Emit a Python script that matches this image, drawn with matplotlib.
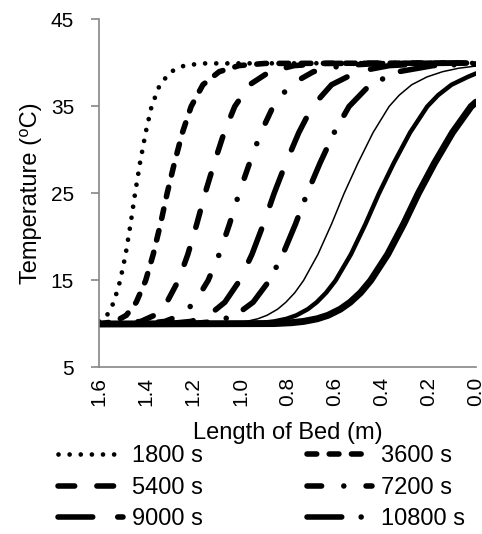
import matplotlib
matplotlib.use("Agg")
import matplotlib.pyplot as plt

plt.rcParams['font.family'] = ['Liberation Sans', 'DejaVu Sans']
plt.rcParams['lines.scale_dashes'] = False

# bed length (m) and temperature (C)
L_1800 = [1.6, 1.566, 1.537, 1.510, 1.487, 1.466, 1.447, 1.426, 1.402, 1.377, 1.342, 1.295, 1.238, 1.162, 0.0]
T_1800 = [10.3, 11, 12.5, 15, 18, 21.5, 25, 28.5, 32, 35, 37.5, 39, 39.7, 39.95, 40]

L_3600 = [1.6, 1.588, 1.531, 1.484, 1.442, 1.402, 1.370, 1.339, 1.311, 1.280, 1.246, 1.209, 1.159, 1.090, 1.006, 0.895, 0.0]
T_3600 = [10.0, 10.05, 10.3, 11, 12.5, 15, 18, 21.5, 25, 28.5, 32, 35, 37.5, 39, 39.7, 39.95, 40]

L_5400 = [1.6, 1.493, 1.422, 1.365, 1.312, 1.263, 1.223, 1.185, 1.150, 1.111, 1.069, 1.024, 0.961, 0.876, 0.772, 0.635, 0.0]
T_5400 = [10.0, 10.05, 10.3, 11, 12.5, 15, 18, 21.5, 25, 28.5, 32, 35, 37.5, 39, 39.7, 39.95, 40]

L_7200 = [1.6, 1.402, 1.320, 1.254, 1.193, 1.137, 1.090, 1.046, 1.006, 0.961, 0.913, 0.861, 0.788, 0.690, 0.570, 0.412, 0.0]
T_7200 = [10.0, 10.05, 10.3, 11, 12.5, 15, 18, 21.5, 25, 28.5, 32, 35, 37.5, 39, 39.7, 39.95, 40]

L_9000 = [1.6, 1.301, 1.209, 1.134, 1.066, 1.003, 0.951, 0.902, 0.857, 0.807, 0.752, 0.695, 0.613, 0.503, 0.368, 0.191, 0.0]
T_9000 = [10.0, 10.05, 10.3, 11, 12.5, 15, 18, 21.5, 25, 28.5, 32, 35, 37.5, 39, 39.7, 39.95, 40]

L_10800 = [1.6, 1.203, 1.102, 1.021, 0.946, 0.877, 0.820, 0.766, 0.717, 0.662, 0.602, 0.539, 0.450, 0.329, 0.182, 0.0]
T_10800 = [10.0, 10.05, 10.3, 11, 12.5, 15, 18, 21.5, 25, 28.5, 32, 35, 37.5, 39, 39.7, 39.9]

L_12600 = [1.6, 1.083, 1.019, 0.974, 0.926, 0.887, 0.842, 0.807, 0.769, 0.732, 0.671, 0.613,
           0.560, 0.501, 0.437, 0.369, 0.326, 0.273, 0.208, 0.142, 0.073, 0.0]
T_12600 = [10.0, 10.05, 10.15, 10.3, 10.6, 11, 11.7, 12.5, 13.6, 15, 18, 21.5,
           25, 28.5, 32, 35, 36.3, 37.5, 38.4, 39, 39.4, 39.65]

L_14400 = [1.6, 0.972, 0.903, 0.856, 0.804, 0.762, 0.714, 0.676, 0.636, 0.596, 0.531, 0.469,
           0.412, 0.349, 0.280, 0.207, 0.161, 0.104, 0.035, 0.0]
T_14400 = [10.0, 10.05, 10.15, 10.3, 10.6, 11, 11.7, 12.5, 13.6, 15, 18, 21.5,
           25, 28.5, 32, 35, 36.3, 37.5, 38.4, 38.8]

L_16200 = [1.6, 0.858, 0.783, 0.731, 0.674, 0.628, 0.576, 0.534, 0.490, 0.447, 0.375, 0.307,
           0.245, 0.176, 0.100, 0.021, 0.0]
T_16200 = [10.0, 10.05, 10.15, 10.3, 10.6, 11, 11.7, 12.5, 13.6, 15, 18, 21.5,
           25, 28.5, 32, 35, 35.5]

labels = ['1800 s', '3600 s', '5400 s', '7200 s', '9000 s', '10800 s']
xticks = [1.6, 1.4, 1.2, 1.0, 0.8, 0.6, 0.4, 0.2, 0.0]
yticks = [5, 15, 25, 35, 45]

fig = plt.figure(figsize=(4.82, 5.34), dpi=100)
ax = fig.add_axes([0.2054, 0.3118, 0.7822, 0.6517])

kw = dict(color='black', solid_capstyle='round', dash_capstyle='round', solid_joinstyle='round')
l1, = ax.plot(L_1800, T_1800, lw=3.4, ls=(0, (0.01, 8.0)), label=labels[0], **kw)
l2, = ax.plot(L_3600, T_3600, lw=4.0, ls=(0, (7.0, 9.0)), label=labels[1], **kw)
l3, = ax.plot(L_5400, T_5400, lw=4.0, ls=(0, (12.0, 16.0)), label=labels[2], **kw)
l4, = ax.plot(L_7200, T_7200, lw=4.0, ls=(0, (10.5, 16.0, 0.01, 16.0)), label=labels[3], **kw)
l5, = ax.plot(L_9000, T_9000, lw=4.0, ls=(0, (25.0, 18.0)), label=labels[4], **kw)
l6, = ax.plot(L_10800, T_10800, lw=4.0, ls=(0, (25.0, 14.0, 0.01, 14.0)), label=labels[5], **kw)
ax.plot(L_12600, T_12600, lw=1.1, **kw)
ax.plot(L_14400, T_14400, lw=3.2, **kw)
ax.plot(L_16200, T_16200, lw=5.0, **kw)

ax.set_xlim(1.6, 0.0)
ax.set_ylim(5, 45)
ax.set_xticks(xticks)
ax.set_xticklabels(['%.1f' % v for v in xticks], rotation=90)
ax.set_yticks(yticks)

gray = '#868686'
for s in ['top', 'right']:
    ax.spines[s].set_visible(False)
for s in ['left', 'bottom']:
    ax.spines[s].set_color(gray)
    ax.spines[s].set_linewidth(1.2)
ax.tick_params(axis='y', length=6, width=1.2, color=gray, labelsize=15, pad=12)
ax.tick_params(axis='x', length=0, labelsize=15, pad=7)

ax.set_xlabel('Length of Bed (m)', fontsize=17, labelpad=11)
ax.set_ylabel('Temperature (\u2070C)', fontsize=17, labelpad=6)

fig.legend([l1, l3, l5, l2, l4, l6], [labels[0], labels[2], labels[4], labels[1], labels[3], labels[5]],
           ncol=2, loc='upper left', bbox_to_anchor=(0.12, 0.166), frameon=False,
           fontsize=17, handlelength=2.75, handletextpad=0.4, columnspacing=4.4,
           labelspacing=0.4, borderpad=0, borderaxespad=0)

fig.savefig('out.png', dpi=100)
